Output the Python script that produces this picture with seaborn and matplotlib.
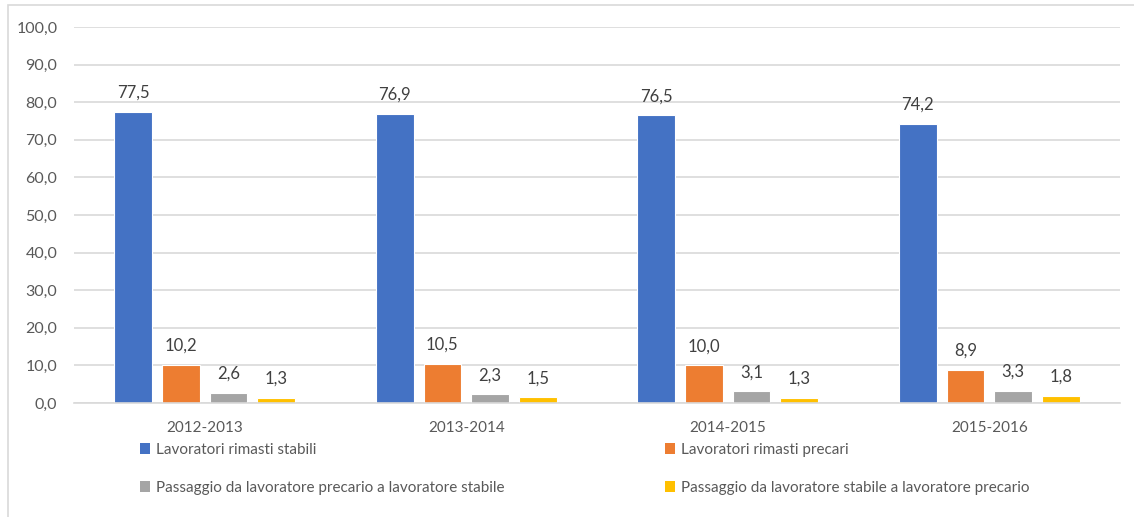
import pandas as pd
import seaborn as sns
import matplotlib.pyplot as plt
from matplotlib.patches import Patch, Rectangle

# values
periods = ["2012-2013", "2013-2014", "2014-2015", "2015-2016"]
series = ["Lavoratori rimasti stabili",
          "Lavoratori rimasti precari",
          "Passaggio da lavoratore precario a lavoratore stabile",
          "Passaggio da lavoratore stabile a lavoratore precario"]
stabili = [77.5, 76.9, 76.5, 74.2]
precari = [10.2, 10.5, 10.0, 8.9]
prec_to_stab = [2.6, 2.3, 3.1, 3.3]
stab_to_prec = [1.3, 1.5, 1.3, 1.8]
colors = ["#4472C4", "#ED7D31", "#A5A5A5", "#FFC000"]

rows = []
for s, vals in zip(series, [stabili, precari, prec_to_stab, stab_to_prec]):
    for p, v in zip(periods, vals):
        rows.append({"period": p, "series": s, "value": v})
data = pd.DataFrame(rows)

sns.set_style("white")
plt.rcParams["font.family"] = ["Lato", "DejaVu Sans"]
txt = "#595959"

fig = plt.figure(figsize=(11.34, 5.17), dpi=100)
ax = fig.add_axes([74 / 1134, 1 - 403 / 517, 1046 / 1134, 376 / 517])

sns.barplot(data=data, x="period", y="value", hue="series", palette=colors,
            saturation=1, width=0.73, gap=0.21, edgecolor="white",
            linewidth=0.8, ax=ax, legend=False)

for cont in ax.containers:
    ax.bar_label(cont, labels=[f"{v:.1f}".replace(".", ",") for v in cont.datavalues],
                 padding=8, fontsize=12, color="#404040")

ax.set_ylim(0, 100)
ax.set_xlim(-0.5, 3.5)
ax.set_yticks(range(0, 101, 10))
ax.set_yticklabels([f"{v},0" for v in range(0, 101, 10)])
ax.yaxis.grid(True, color="#d9d9d9", linewidth=1.2)
ax.set_axisbelow(True)
for sp in ["top", "right", "left"]:
    ax.spines[sp].set_visible(False)
ax.spines["bottom"].set_color("#d9d9d9")
ax.spines["bottom"].set_linewidth(1.2)
ax.tick_params(axis="both", length=0, labelcolor=txt)
ax.tick_params(axis="x", pad=13, labelsize=11)
ax.tick_params(axis="y", pad=12, labelsize=11.5)
ax.set_xlabel("")
ax.set_ylabel("")

# legend in two columns placed like the original
handles = [Patch(facecolor=c, edgecolor="none") for c in colors]
for idx, (x, y) in zip(range(4), [(140, 450), (665, 450), (140, 488), (665, 488)]):
    fig.legend([handles[idx]], [series[idx]], loc="center left",
               bbox_to_anchor=(x / 1134, 1 - y / 517), frameon=False,
               fontsize=11, labelcolor=txt, handlelength=0.68, handleheight=0.68,
               handletextpad=0.35, borderaxespad=0, borderpad=0)

# outer chart border
fig.patches.append(Rectangle((8 / 1134, -0.05), 1.2, 1 - 5 / 517 + 0.05,
                             transform=fig.transFigure, fill=False,
                             edgecolor="#d9d9d9", linewidth=1.2))

fig.savefig("out.png", dpi=100)
